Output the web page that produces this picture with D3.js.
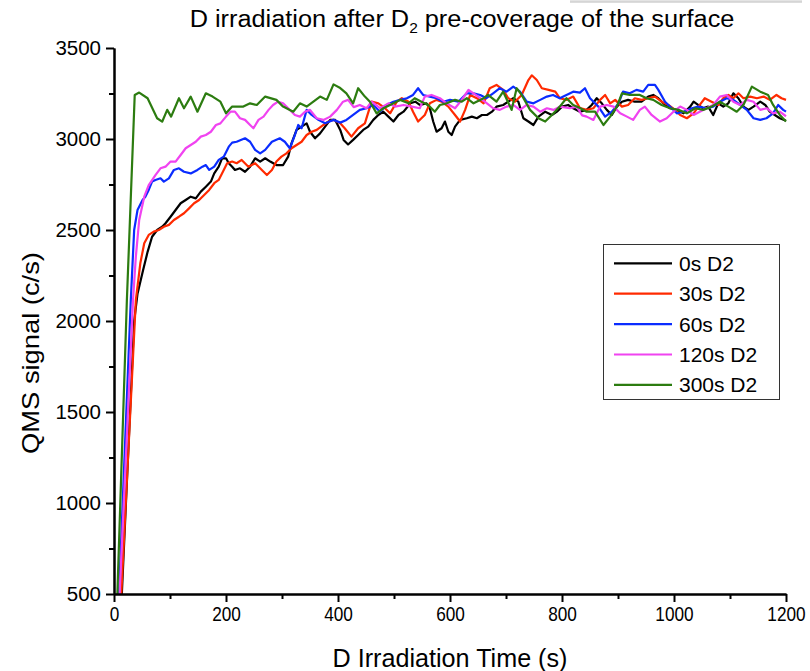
<!DOCTYPE html>
<html><head><meta charset="utf-8">
<script src="https://cdn.jsdelivr.net/npm/d3@7"></script>
<style>
html,body{margin:0;padding:0;background:#fff;}
svg{display:block;font-family:"Liberation Sans",Arial,sans-serif;}
</style></head>
<body><svg id="c" width="810" height="671"></svg>
<script>
// ---------------- data ----------------
const seriesNames = ["0s D2","30s D2","60s D2","120s D2","300s D2"];
const seriesColors = ["#000000","#ff2a00","#0a2cff","#f043f0","#2c7c10"];
const yTickValues = [500,1000,1500,2000,2500,3000,3500];
const xTickValues = [0,200,400,600,800,1000,1200];

const s0 = [[14,500],[36,2000],[42,2150],[52,2280],[60,2380],[68,2463],[77,2500],[86,2518],[92,2537],[101,2573],[110,2610],[119,2647],[128,2665],[137,2683],[146,2674],[155,2711],[164,2738],[173,2766],[179,2811],[187,2848],[193,2894],[200,2894],[205,2867],[211,2848],[216,2830],[225,2839],[234,2820],[243,2848],[252,2894],[261,2876],[270,2894],[279,2876],[290,2857],[302,2857],[311,2903],[317,2976],[326,3050],[335,3068],[344,3086],[350,3040],[359,3004],[368,3031],[377,3068],[386,3105],[395,3105],[404,3050],[410,2995],[418,2970],[427,2995],[436,3022],[445,3050],[454,3068],[463,3105],[472,3132],[481,3150],[490,3123],[499,3096],[508,3132],[517,3150],[529,3196],[538,3205],[546,3187],[558,3196],[564,3169],[570,3096],[576,3040],[585,3059],[591,3096],[597,3040],[603,3022],[609,3068],[618,3105],[630,3114],[639,3123],[648,3114],[657,3132],[666,3132],[675,3150],[683,3178],[695,3187],[704,3205],[713,3224],[722,3205],[731,3114],[740,3096],[749,3077],[758,3123],[770,3150],[782,3132],[791,3150],[800,3178],[811,3187],[820,3169],[832,3150],[844,3160],[853,3187],[862,3224],[871,3196],[880,3160],[889,3132],[898,3178],[907,3205],[918,3215],[930,3205],[942,3205],[954,3233],[963,3242],[972,3224],[981,3196],[993,3169],[1005,3160],[1017,3141],[1029,3178],[1035,3205],[1043,3187],[1052,3169],[1061,3178],[1070,3132],[1079,3196],[1088,3178],[1097,3196],[1106,3251],[1115,3224],[1124,3178],[1133,3160],[1142,3178],[1154,3205],[1163,3187],[1171,3150],[1180,3132],[1189,3114],[1200,3100]];

const s30 = [[13,500],[39,2115],[47,2317],[54,2427],[62,2473],[71,2491],[80,2500],[89,2518],[98,2528],[107,2555],[116,2573],[125,2592],[134,2619],[143,2647],[152,2665],[161,2692],[170,2720],[179,2757],[187,2775],[196,2830],[202,2867],[211,2876],[219,2867],[228,2885],[240,2848],[252,2867],[264,2830],[273,2802],[282,2830],[290,2876],[299,2903],[308,2921],[317,2949],[326,2967],[335,2985],[344,3022],[353,3040],[362,3050],[374,3077],[383,3096],[392,3105],[404,3086],[412,3059],[424,3013],[436,3059],[448,3086],[460,3205],[472,3196],[484,3169],[493,3141],[505,3205],[514,3224],[526,3205],[534,3150],[543,3096],[555,3132],[564,3196],[576,3215],[585,3205],[597,3178],[609,3132],[618,3096],[627,3160],[636,3242],[648,3224],[660,3196],[671,3279],[683,3297],[695,3270],[704,3224],[716,3205],[728,3242],[740,3324],[746,3350],[755,3324],[764,3279],[776,3270],[788,3260],[796,3224],[808,3215],[820,3233],[832,3170],[844,3160],[856,3169],[868,3215],[877,3242],[886,3196],[895,3215],[907,3178],[918,3187],[930,3224],[942,3215],[954,3224],[966,3233],[978,3205],[990,3187],[1002,3160],[1011,3132],[1023,3114],[1035,3141],[1046,3187],[1055,3224],[1067,3205],[1079,3187],[1088,3224],[1097,3242],[1106,3224],[1115,3251],[1124,3224],[1136,3233],[1148,3224],[1160,3233],[1171,3215],[1183,3242],[1192,3224],[1200,3215]];

const s60 = [[9,500],[30,2115],[36,2500],[42,2610],[51,2665],[56,2683],[62,2720],[68,2766],[74,2775],[83,2784],[89,2766],[98,2784],[107,2830],[116,2839],[125,2820],[137,2811],[149,2830],[158,2848],[164,2857],[170,2830],[179,2848],[187,2885],[196,2903],[205,2958],[211,2980],[219,2985],[234,3004],[243,2985],[252,2940],[261,2921],[270,2940],[282,2985],[296,3004],[305,2985],[314,2949],[323,3022],[329,3077],[335,3059],[344,3160],[353,3132],[365,3105],[377,3086],[392,3105],[404,3090],[415,3105],[427,3132],[439,3160],[451,3169],[463,3187],[475,3150],[487,3187],[499,3205],[511,3215],[523,3224],[534,3242],[543,3279],[552,3242],[564,3233],[576,3224],[588,3205],[600,3215],[615,3205],[630,3251],[642,3251],[654,3242],[665,3224],[677,3251],[689,3279],[701,3260],[713,3288],[725,3260],[737,3205],[749,3196],[761,3215],[773,3233],[784,3242],[796,3224],[808,3242],[820,3260],[832,3255],[841,3279],[850,3224],[865,3178],[877,3123],[889,3150],[901,3196],[909,3260],[921,3251],[933,3270],[945,3260],[954,3297],[966,3297],[972,3270],[984,3205],[996,3169],[1005,3141],[1017,3150],[1032,3169],[1043,3178],[1058,3169],[1070,3178],[1082,3205],[1094,3224],[1106,3215],[1118,3187],[1130,3160],[1142,3114],[1154,3105],[1165,3114],[1177,3141],[1186,3187],[1195,3160],[1200,3150]];

const s120 = [[10,500],[34,2115],[39,2353],[45,2555],[54,2683],[62,2747],[74,2802],[83,2839],[92,2848],[101,2876],[110,2876],[119,2912],[128,2949],[137,2967],[146,2985],[155,3013],[164,3022],[173,3040],[182,3077],[190,3086],[200,3123],[208,3150],[216,3150],[225,3114],[234,3105],[243,3077],[249,3059],[258,3105],[267,3123],[276,3160],[284,3187],[293,3205],[302,3196],[311,3169],[323,3132],[332,3123],[341,3150],[350,3160],[362,3114],[374,3105],[386,3123],[398,3160],[409,3205],[418,3215],[428,3175],[439,3187],[451,3169],[460,3205],[475,3169],[490,3196],[502,3178],[517,3187],[532,3178],[546,3169],[555,3233],[567,3242],[582,3224],[594,3196],[609,3169],[621,3215],[633,3270],[642,3251],[654,3224],[666,3196],[677,3169],[689,3160],[701,3178],[713,3187],[725,3160],[737,3187],[749,3178],[761,3150],[773,3169],[785,3160],[796,3178],[814,3169],[826,3178],[836,3130],[844,3123],[856,3105],[868,3178],[880,3187],[892,3178],[904,3141],[916,3123],[927,3105],[939,3160],[948,3178],[960,3132],[975,3096],[987,3114],[999,3150],[1011,3178],[1023,3160],[1035,3132],[1046,3150],[1058,3169],[1070,3187],[1082,3233],[1094,3242],[1106,3205],[1118,3187],[1130,3215],[1142,3205],[1154,3160],[1166,3169],[1177,3141],[1189,3150],[1200,3125]];

const s300 = [[6,500],[23,2115],[37,3242],[45,3255],[60,3224],[77,3114],[86,3095],[95,3160],[102,3123],[116,3224],[125,3169],[137,3233],[149,3150],[164,3251],[176,3233],[190,3205],[200,3141],[211,3178],[231,3178],[243,3196],[255,3187],[270,3233],[290,3215],[302,3178],[320,3150],[332,3196],[344,3178],[356,3205],[368,3233],[380,3215],[392,3300],[404,3280],[415,3251],[427,3196],[436,3279],[448,3233],[457,3205],[469,3141],[481,3169],[493,3187],[511,3215],[526,3196],[537,3224],[549,3205],[561,3187],[573,3150],[582,3187],[594,3196],[609,3215],[621,3205],[630,3224],[642,3196],[660,3224],[668,3242],[683,3205],[695,3260],[710,3160],[719,3279],[728,3242],[743,3160],[758,3114],[770,3096],[782,3132],[796,3178],[808,3224],[820,3187],[832,3170],[844,3150],[859,3150],[874,3077],[886,3123],[898,3178],[907,3251],[921,3242],[939,3242],[951,3224],[963,3215],[978,3187],[993,3169],[1008,3160],[1023,3141],[1038,3169],[1052,3160],[1067,3178],[1082,3205],[1097,3178],[1112,3150],[1124,3187],[1139,3288],[1154,3260],[1168,3242],[1177,3187],[1189,3132],[1200,3096]];

const seriesData = [s0, s30, s60, s120, s300];

// ---------------- chart ----------------
const svg = d3.select("#c");
const x = d3.scaleLinear().domain([0,1200]).range([114,786]);
const y = d3.scaleLinear().domain([500,3500]).range([594,48]);
const FONT = "'Liberation Sans', Arial, sans-serif";

// grey bar at top right (window artifact)
svg.append("rect").attr("x",570).attr("y",-3).attr("width",232).attr("height",5).attr("fill","#e4e4e4");
svg.append("line").attr("x1",570).attr("x2",802).attr("y1",2).attr("y2",2).attr("stroke","#d0d0d0").attr("stroke-width",1.5);

svg.append("defs").append("clipPath").attr("id","clip")
  .append("rect").attr("x",114).attr("y",40).attr("width",680).attr("height",554);

const line = d3.line().x(d=>x(d[0])).y(d=>y(d[1]));
const gLines = svg.append("g").attr("clip-path","url(#clip)");
seriesData.forEach((s,i)=>{
  gLines.append("path").datum(s).attr("d",line)
    .attr("fill","none").attr("stroke",seriesColors[i]).attr("stroke-width",2.2)
    .attr("stroke-linejoin","round");
});

// axes
function styleAxis(g){
  g.select(".domain").attr("stroke","#000").attr("stroke-width",2);
  g.selectAll(".tick line").attr("stroke","#000").attr("stroke-width",2);
}
const yMinor = d3.range(750,3500,500);
const xMinor = d3.range(100,1200,200);

svg.append("g").attr("transform","translate(114,0)")
  .call(d3.axisLeft(y).tickValues(yMinor).tickSize(5).tickSizeOuter(0).tickFormat(""))
  .call(styleAxis);
const yAx = svg.append("g").attr("transform","translate(114,0)")
  .call(d3.axisLeft(y).tickValues(yTickValues).tickSize(8).tickSizeOuter(0).tickPadding(5).tickFormat(d3.format("d")))
  .call(styleAxis);
yAx.selectAll("text").attr("font-family",FONT).attr("font-size",20.5).attr("fill","#000");

svg.append("g").attr("transform","translate(0,594)")
  .call(d3.axisBottom(x).tickValues(xMinor).tickSize(5).tickSizeOuter(0).tickFormat(""))
  .call(styleAxis);
const xAx = svg.append("g").attr("transform","translate(0,594)")
  .call(d3.axisBottom(x).tickValues(xTickValues).tickSize(8).tickSizeOuter(0).tickPadding(4).tickFormat(d3.format("d")))
  .call(styleAxis);
xAx.selectAll("text").attr("font-family",FONT).attr("font-size",20.5).attr("fill","#000")
  .attr("transform","scale(0.84,1)");

function fitWidth(t, w){
  const L = t.node().getComputedTextLength();
  t.attr("transform", `scale(${w/L},1)`);
}

// title
const tg = svg.append("g").attr("transform","translate(462,27)");
const tt = tg.append("text").attr("text-anchor","middle").attr("font-family",FONT).attr("font-size",24.5).attr("fill","#000");
tt.append("tspan").text("D irradiation after D");
tt.append("tspan").attr("font-size",15).attr("dy",6).text("2");
tt.append("tspan").attr("dy",-6).text(" pre-coverage of the surface");
fitWidth(tt, 545);

// x axis title
const xg = svg.append("g").attr("transform","translate(450,667)");
const xt = xg.append("text").attr("text-anchor","middle").attr("font-family",FONT).attr("font-size",25).attr("fill","#000")
  .text("D Irradiation Time (s)");
fitWidth(xt, 235);

// y axis title
const yg = svg.append("g").attr("transform","translate(39,353) rotate(-90)");
const yt = yg.append("text").attr("text-anchor","middle").attr("font-family",FONT).attr("font-size",24).attr("fill","#000")
  .text("QMS signal (c/s)");
fitWidth(yt, 202);

// legend
const lg = svg.append("g");
lg.append("rect").attr("x",603.5).attr("y",244.5).attr("width",176).attr("height",155)
  .attr("fill","#fff").attr("stroke","#333").attr("stroke-width",1);
seriesNames.forEach((n,i)=>{
  const yy = 263.3 + i*30.4;
  lg.append("line").attr("x1",614).attr("x2",672).attr("y1",yy).attr("y2",yy)
    .attr("stroke",seriesColors[i]).attr("stroke-width",2.2);
  lg.append("text").attr("x",679).attr("y",yy).attr("dy","0.36em")
    .attr("font-family",FONT).attr("font-size",21).attr("fill","#000").text(n);
});
</script></body></html>
